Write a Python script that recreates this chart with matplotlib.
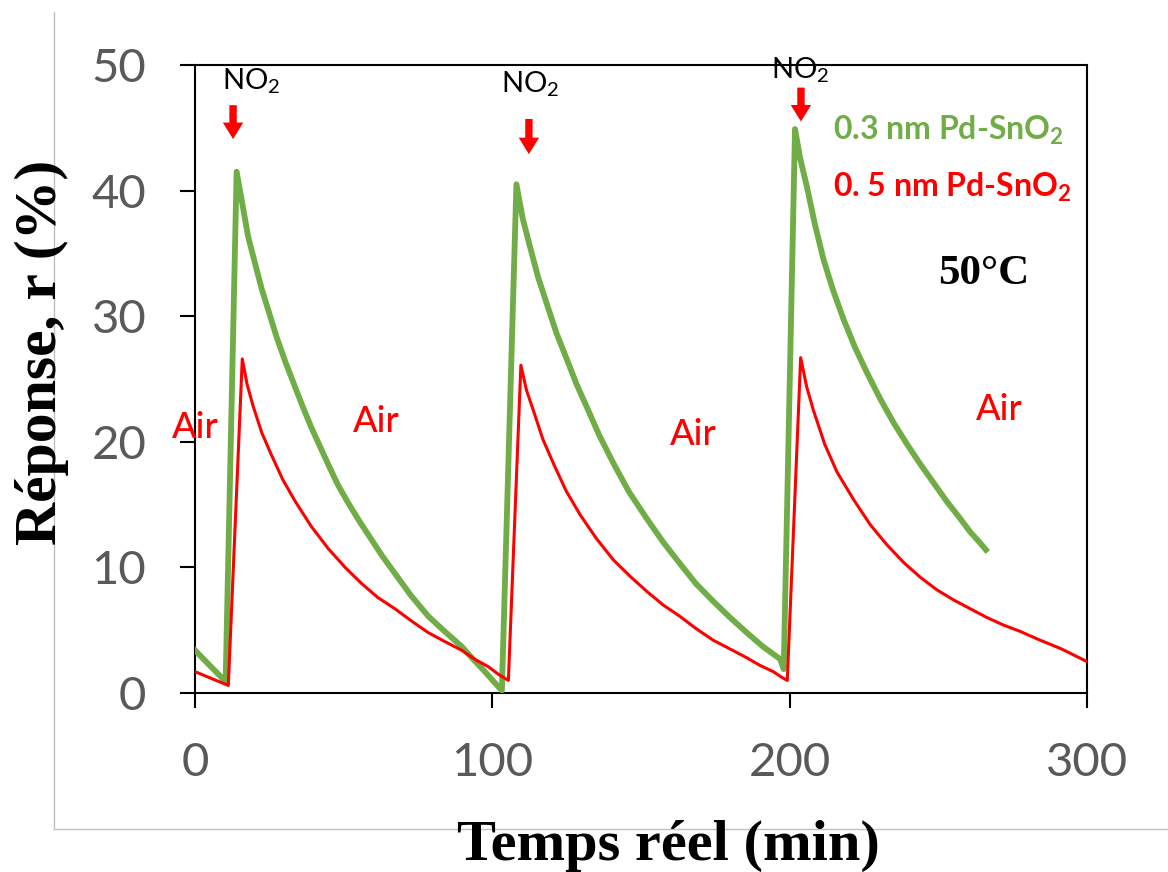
import numpy as np
import matplotlib
matplotlib.use("Agg")
from matplotlib import pyplot as plt
from matplotlib.lines import Line2D

plt.rcParams['font.family'] = ['Lato', 'DejaVu Sans']

# 0.3 nm Pd-SnO2 (green)
green_t = [0, 10.3, 14.0, 17.9, 22.4, 27.5, 30.5, 33.6, 36.4, 39.2, 44.8, 48.0, 51.6, 55.5, 59.4, 63.0,
           67.3, 72.5, 78.5, 84.0, 89.7, 93.5, 97.5, 100.5, 103.2,
           108.1, 110.2, 112.7, 115.4, 118.3, 121.5, 125.0, 128.3, 131.7, 136.0, 140.7, 146.0,
           151.9, 157.5, 163.1, 168.5, 174.3, 180.0, 185.6, 191.0, 196.8, 198.0,
           201.8, 203.5, 205.8, 208.5, 211.4, 214.7, 218.2, 222.0, 226.0, 230.5, 235.0, 239.5,
           244.0, 248.5, 253.0, 257.0, 260.8, 263.5, 266.0]
green_r = [3.4, 0.9, 41.5, 36.3, 32.2, 28.3, 26.3, 24.4, 22.7, 21.1, 18.2, 16.6, 15.1, 13.6, 12.2, 10.9,
           9.5, 7.8, 6.1, 4.9, 3.7, 2.7, 1.7, 0.9, 0.2,
           40.5, 37.8, 35.5, 33.1, 31.0, 28.7, 26.6, 24.6, 22.8, 20.5, 18.3, 16.0,
           13.9, 12.0, 10.3, 8.7, 7.3, 6.0, 4.8, 3.7, 2.7, 1.9,
           44.9, 42.6, 40.3, 37.3, 34.5, 32.0, 29.7, 27.5, 25.5, 23.4, 21.5, 19.8,
           18.2, 16.7, 15.2, 14.0, 12.8, 12.1, 11.4]

# 0.5 nm Pd-SnO2 (red)
red_t = [0, 11.2, 15.9, 17.5, 19.6, 22.5, 25.8, 29.5, 33.6, 39.0, 44.8, 50.5, 56.1, 61.5, 67.3,
         73.0, 78.5, 84.0, 89.7, 94.0, 98.6, 102.0, 105.4,
         109.6, 111.5, 113.8, 117.0, 120.5, 124.8, 129.5, 135.0, 140.7, 146.3, 151.9, 157.5,
         163.1, 168.7, 174.3, 180.0, 185.6, 190.0, 194.5, 197.0, 199.2,
         203.7, 205.7, 208.0, 211.8, 215.9, 221.5, 227.1, 232.7, 238.3, 244.0, 249.6, 255.2,
         260.8, 266.4, 272.0, 277.6, 283.3, 291.5, 300.0]
red_r = [1.7, 0.6, 26.6, 24.6, 22.8, 20.7, 18.9, 17.0, 15.3, 13.3, 11.5, 10.0, 8.7, 7.6, 6.7,
         5.7, 4.8, 4.1, 3.4, 2.7, 2.1, 1.5, 1.0,
         26.1, 24.1, 22.5, 20.2, 18.3, 16.1, 14.2, 12.3, 10.6, 9.3, 8.1, 7.0,
         6.1, 5.1, 4.2, 3.5, 2.8, 2.2, 1.7, 1.3, 1.0,
         26.7, 24.4, 22.5, 19.8, 17.6, 15.4, 13.4, 11.8, 10.4, 9.2, 8.2, 7.4,
         6.7, 6.0, 5.4, 4.9, 4.3, 3.5, 2.5]

xticks = [0, 100, 200, 300]
yticks = [0, 10, 20, 30, 40, 50]

GREEN = '#70AD47'
RED = '#FF0000'

fig = plt.figure(figsize=(11.68, 8.72), dpi=100)
ax = fig.add_axes([195/1168, 1-693/872, 892/1168, 628/872])

g_t = np.array(green_t)
g_r = np.array(green_r)
# decaying parts look thick (noisy) in the original
dec = np.diff(g_r) < 0
keep = np.zeros(len(g_r), bool)
keep[:-1] |= dec
keep[1:] |= dec
ax.plot(g_t, g_r, color=GREEN, lw=1.8, zorder=3)
ax.plot(g_t, np.ma.masked_where(~keep, g_r), color=GREEN, lw=4.2, zorder=3)
ax.plot(red_t, red_r, color=RED, lw=2.2, zorder=4)

ax.set_xlim(0, 300)
ax.set_ylim(0, 50)
ax.set_xticks(xticks)
ax.set_yticks(yticks)
ax.tick_params(direction='out', length=11, width=1.5, labelsize=34,
               labelcolor='#595959', pad=24)
for s in ax.spines.values():
    s.set_linewidth(1.5)

# NO2 markers
for x, yb, ya in [(12.8, 46.8, 44.1), (112.3, 45.7, 42.9), (203.8, 48.2, 45.5)]:
    ax.annotate('', xy=(x, ya), xytext=(x, yb),
                arrowprops=dict(arrowstyle='simple,head_width=1.05,head_length=0.85,tail_width=0.38',
                                color=RED, lw=0, mutation_scale=14, shrinkA=0, shrinkB=0))
for x, yt in [(18.8, 48.1), (112.7, 47.85), (203.5, 48.97)]:
    ax.text(x, yt, 'NO$_\\mathregular{2}$', fontsize=21, ha='center', va='baseline')

for x, y in [(0, 20.3), (60.9, 20.8), (167.5, 19.75), (270.4, 21.7)]:
    ax.text(x, y, 'Air', color=RED, fontsize=26, fontweight='medium', ha='center', va='baseline')

ax.text(214.6, 44.1, '0.3 nm Pd-SnO$_\\mathregular{2}$', color=GREEN, fontsize=23,
        fontweight='bold', va='baseline')
ax.text(214.6, 39.5, '0. 5 nm Pd-SnO$_\\mathregular{2}$', color=RED, fontsize=23,
        fontweight='bold', va='baseline')
ax.text(249.9, 32.6, '50°C', fontsize=31, fontweight='bold', family='Liberation Serif',
        va='baseline')

fig.text(668/1168, 1-860/872, 'Temps réel (min)', fontsize=42, fontweight='bold',
         family='Liberation Serif', ha='center', va='baseline')
fig.text(42/1168, 1-352/872, 'Réponse, r (%)', fontsize=43, fontweight='bold',
         family='Liberation Serif', rotation=90, ha='center', va='center')

# thin grey frame of the original image
fig.add_artist(Line2D([54/1168, 54/1168], [1-12/872, 1-829/872], color='#BFBFBF', lw=1,
                      transform=fig.transFigure, zorder=0))
fig.add_artist(Line2D([54/1168, 1], [1-829/872, 1-829/872], color='#BFBFBF', lw=1,
                      transform=fig.transFigure, zorder=0))

plt.savefig("out.png", dpi=100)
